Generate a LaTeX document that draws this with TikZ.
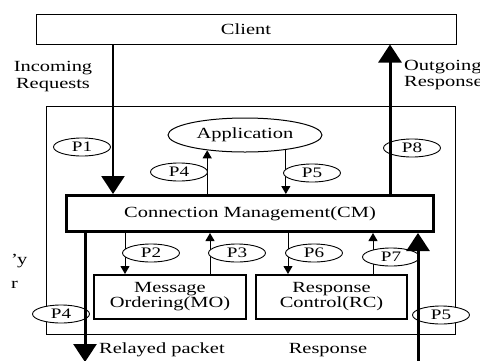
\documentclass[tikz,border=0pt]{standalone}
\usepackage{fontspec}
\setmainfont{Liberation Serif}[FakeStretch=1.32]
\usetikzlibrary{arrows.meta,shapes.geometric}

\begin{document}
\begin{tikzpicture}[x=1pt,y=-1pt,
  every node/.style={font=\fontsize{15.5}{16.5}\selectfont},
  plainbox/.style={draw,line width=1pt,inner sep=0pt},
  modbox/.style={draw,line width=2pt,inner sep=0pt,align=center,
    minimum width=152pt,minimum height=44pt,
    font=\fontsize{15.5}{13}\selectfont},
  tag/.style={draw,ellipse,fill=white,line width=0.9pt,inner sep=0pt,
    minimum width=57pt,minimum height=18pt,
    font=\fontsize{14.5}{15}\selectfont},
  thinarrow/.style={line width=1pt,-{Triangle[width=9pt,length=8pt]}},
  bigarrow/.style={line width=3pt,-{Triangle[width=23pt,length=18pt]}},
  caption/.style={inner sep=0pt}
]
\useasboundingbox (0,0) rectangle (480,360);

% client and the enclosing proxy area
\node[plainbox,minimum width=420pt,minimum height=30pt] (client) at (246,29) {Client};
\node[plainbox,minimum width=409pt,minimum height=228pt] (proxy) at (250.5,220) {};

% modules
\node[draw,ellipse,line width=1pt,inner sep=0pt,minimum width=154pt,minimum height=34pt] (app) at (245,135) {Application};
\node[draw,line width=3pt,inner sep=0pt,minimum width=367pt,minimum height=36pt] (cm) at (250,213.5) {Connection Management(CM)};
\node[modbox] (mo) at (170,297) {Message\\Ordering(MO)};
\node[modbox,minimum width=151pt] (rc) at (331.5,297) {Response\\Control(RC)};

% x positions of the internal links
\coordinate (xp2) at (125,0);
\coordinate (xp3) at (210,0);
\coordinate (xp6) at (288,0);
\coordinate (xp7) at (373,0);
\coordinate (xin) at (113,0);
\coordinate (xout) at (390,0);
\coordinate (relayend) at (85,362);
\coordinate (respstart) at (418,362);

% internal links
\draw[thinarrow] (cm.north -| app.202) -- (app.202);
\draw[thinarrow] (app.340) -- (cm.north -| app.340);
\draw[thinarrow] (cm.south -| xp2) -- (mo.north -| xp2);
\draw[thinarrow] (mo.north -| xp3) -- (cm.south -| xp3);
\draw[thinarrow] (cm.south -| xp6) -- (rc.north -| xp6);
\draw[thinarrow] (rc.north -| xp7) -- (cm.south -| xp7);

% path labels
\node[tag] (p1) at (82,147) {P1};
\node[tag] (p4a) at (179,172) {P4};
\node[tag] (p5a) at (312,173) {P5};
\node[tag] (p8) at (412,148) {P8};
\node[tag] (p2) at (151,253) {P2};
\node[tag] (p3) at (237,253) {P3};
\node[tag] (p6) at (314,253) {P6};
\node[tag] (p7) at (391,257) {P7};
\node[tag] (p4b) at (61,314) {P4};
\node[tag] (p5b) at (441,315) {P5};

% external traffic
\draw[bigarrow,line width=2.5pt] (client.south -| xin) -- (cm.north -| xin);
\draw[bigarrow] (cm.north -| xout) -- (client.south -| xout);
\draw[bigarrow] (cm.south -| relayend) -- (relayend);
\draw[bigarrow] (respstart) -- (cm.south -| respstart);

% captions
\node[caption,align=center] (incap) at (53,76.5) {Incoming\\Requests};
\node[caption,align=left,anchor=west] (outcap) at (404,75) {Outgoing\\Response};
\node[caption,anchor=base west] (relaycap) at (99,353) {Relayed packet};
\node[caption,anchor=base] (respcap) at (328,353) {Response};
\node[caption,anchor=base west] (sidea) at (11,264) {’\kern-1pt y};
\node[caption,anchor=base west] (sideb) at (11,288) {r};
\end{tikzpicture}
\end{document}
